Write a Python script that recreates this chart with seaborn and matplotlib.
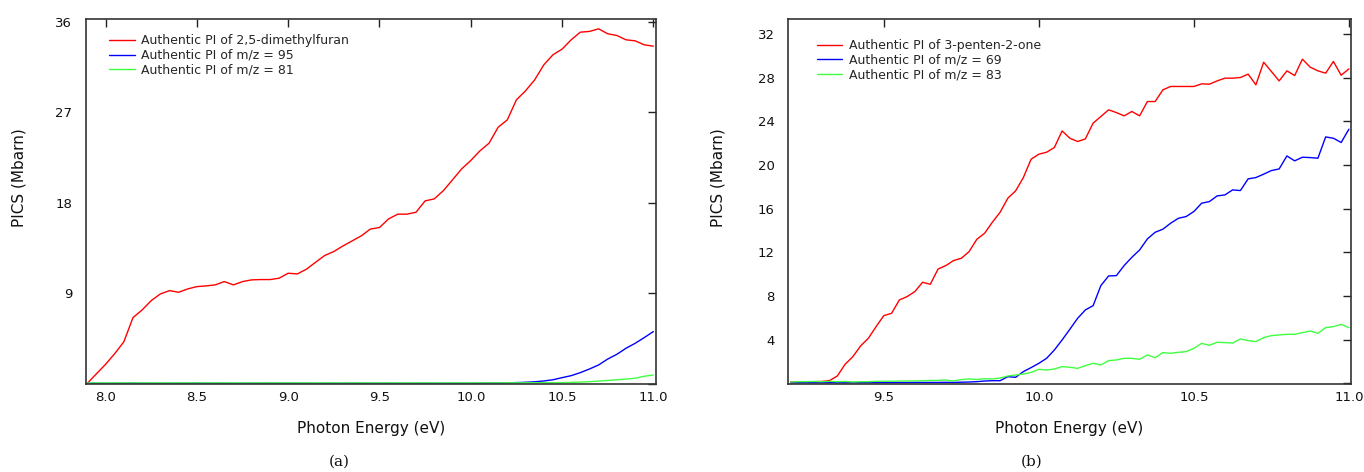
import matplotlib
matplotlib.use("Agg")
import matplotlib.pyplot as plt
import pandas as pd
import seaborn as sns

# ---------------- data: panel (a) ----------------
energy_a = [7.90, 7.95, 8.00, 8.05, 8.10, 8.15, 8.20, 8.25, 8.30, 8.35,
            8.40, 8.45, 8.50, 8.55, 8.60, 8.65, 8.70, 8.75, 8.80, 8.85,
            8.90, 8.95, 9.00, 9.05, 9.10, 9.15, 9.20, 9.25, 9.30, 9.35,
            9.40, 9.45, 9.50, 9.55, 9.60, 9.65, 9.70, 9.75, 9.80, 9.85,
            9.90, 9.95, 10.00, 10.05, 10.10, 10.15, 10.20, 10.25, 10.30, 10.35,
            10.40, 10.45, 10.50, 10.55, 10.60, 10.65, 10.70, 10.75, 10.80, 10.85,
            10.90, 10.95, 11.00]
red_a = [0.05, 1.00, 1.94, 3.00, 4.18, 6.58, 7.34, 8.27, 8.93, 9.26,
         9.10, 9.43, 9.66, 9.73, 9.83, 10.16, 9.83, 10.16, 10.33, 10.36,
         10.36, 10.49, 10.99, 10.92, 11.39, 12.08, 12.75, 13.15, 13.70, 14.20,
         14.70, 15.38, 15.53, 16.39, 16.86, 16.86, 17.05, 18.18, 18.38, 19.20,
         20.27, 21.36, 22.19, 23.15, 23.91, 25.50, 26.23, 28.22, 29.12, 30.21,
         31.70, 32.70, 33.26, 34.19, 34.95, 35.02, 35.28, 34.79, 34.62, 34.19,
         34.09, 33.69, 33.56]
blue_a = [0.05, 0.05, 0.04, 0.05, 0.05, 0.06, 0.05, 0.05, 0.04, 0.05,
          0.05, 0.05, 0.06, 0.05, 0.05, 0.05, 0.04, 0.05, 0.05, 0.05,
          0.06, 0.05, 0.05, 0.05, 0.05, 0.04, 0.05, 0.05, 0.05, 0.06,
          0.05, 0.05, 0.05, 0.05, 0.05, 0.04, 0.05, 0.05, 0.05, 0.05,
          0.05, 0.05, 0.05, 0.06, 0.07, 0.08, 0.10, 0.12, 0.15, 0.20,
          0.28, 0.40, 0.61, 0.81, 1.11, 1.47, 1.87, 2.46, 2.93, 3.53,
          4.02, 4.59, 5.19]
green_a = [0.08, 0.09, 0.08, 0.08, 0.09, 0.08, 0.08, 0.08, 0.09, 0.08,
           0.08, 0.09, 0.08, 0.08, 0.08, 0.09, 0.08, 0.08, 0.08, 0.09,
           0.08, 0.08, 0.09, 0.08, 0.08, 0.08, 0.09, 0.08, 0.08, 0.08,
           0.09, 0.08, 0.08, 0.09, 0.08, 0.08, 0.08, 0.09, 0.08, 0.08,
           0.09, 0.08, 0.08, 0.09, 0.09, 0.09, 0.10, 0.10, 0.10, 0.10,
           0.11, 0.11, 0.12, 0.14, 0.17, 0.21, 0.27, 0.33, 0.40, 0.47,
           0.55, 0.75, 0.87]
labels_a = ["Authentic PI of 2,5-dimethylfuran",
            "Authentic PI of m/z = 95",
            "Authentic PI of m/z = 81"]
yticks_a = [0, 9, 18, 27, 36]
ytick_labels_a = ["", "9", "18", "27", "36"]
xticks_a = [8.0, 8.5, 9.0, 9.5, 10.0, 10.5, 11.0]

# ---------------- data: panel (b) ----------------
energy_b = [9.200, 9.225, 9.250, 9.275, 9.300, 9.325, 9.350, 9.375, 9.400, 9.425,
            9.450, 9.475, 9.500, 9.525, 9.550, 9.575, 9.600, 9.625, 9.650, 9.675,
            9.700, 9.725, 9.750, 9.775, 9.800, 9.825, 9.850, 9.875, 9.900, 9.925,
            9.950, 9.975, 10.000, 10.025, 10.050, 10.075, 10.100, 10.125, 10.150, 10.175,
            10.200, 10.225, 10.250, 10.275, 10.300, 10.325, 10.350, 10.375, 10.400, 10.425,
            10.450, 10.475, 10.500, 10.525, 10.550, 10.575, 10.600, 10.625, 10.650, 10.675,
            10.700, 10.725, 10.750, 10.775, 10.800, 10.825, 10.850, 10.875, 10.900, 10.925,
            10.950, 10.975, 11.000]
red_b = [0.12, 0.12, 0.14, 0.15, 0.17, 0.25, 0.67, 1.74, 2.44, 3.42,
         4.12, 5.19, 6.20, 6.41, 7.63, 7.94, 8.40, 9.25, 9.07, 10.47,
         10.78, 11.24, 11.45, 12.06, 13.19, 13.74, 14.75, 15.66, 16.95, 17.62,
         18.84, 20.52, 20.98, 21.16, 21.59, 23.11, 22.44, 22.14, 22.38, 23.82,
         24.43, 25.04, 24.79, 24.49, 24.89, 24.49, 25.80, 25.80, 26.87, 27.18,
         27.18, 27.18, 27.18, 27.42, 27.39, 27.69, 27.94, 27.94, 28.00, 28.31,
         27.33, 29.40, 28.55, 27.69, 28.61, 28.18, 29.68, 28.95, 28.61, 28.40,
         29.47, 28.21, 28.79]
blue_b = [0.05, 0.05, 0.06, 0.05, 0.05, 0.06, 0.05, 0.05, 0.06, 0.05,
          0.06, 0.06, 0.07, 0.07, 0.07, 0.07, 0.08, 0.08, 0.08, 0.08,
          0.09, 0.08, 0.10, 0.12, 0.15, 0.21, 0.24, 0.24, 0.61, 0.55,
          1.07, 1.44, 1.83, 2.29, 3.05, 3.97, 4.95, 5.95, 6.72, 7.11,
          8.95, 9.83, 9.86, 10.78, 11.54, 12.21, 13.22, 13.83, 14.11, 14.66,
          15.11, 15.27, 15.73, 16.49, 16.64, 17.16, 17.25, 17.71, 17.65, 18.72,
          18.84, 19.15, 19.48, 19.63, 20.82, 20.37, 20.70, 20.67, 20.61, 22.56,
          22.44, 22.05, 23.27]
green_b = [0.12, 0.15, 0.15, 0.17, 0.15, 0.18, 0.15, 0.17, 0.12, 0.15,
           0.15, 0.18, 0.18, 0.20, 0.20, 0.22, 0.22, 0.24, 0.26, 0.27,
           0.30, 0.22, 0.34, 0.40, 0.35, 0.42, 0.40, 0.48, 0.67, 0.76,
           0.85, 1.00, 1.28, 1.22, 1.31, 1.53, 1.47, 1.37, 1.62, 1.83,
           1.68, 2.08, 2.14, 2.29, 2.29, 2.20, 2.60, 2.35, 2.81, 2.75,
           2.84, 2.90, 3.20, 3.66, 3.48, 3.76, 3.73, 3.69, 4.06, 3.91,
           3.82, 4.18, 4.37, 4.43, 4.49, 4.49, 4.64, 4.79, 4.58, 5.10,
           5.19, 5.40, 5.10]
labels_b = ["Authentic PI of 3-penten-2-one",
            "Authentic PI of m/z = 69",
            "Authentic PI of m/z = 83"]
yticks_b = [0, 4, 8, 12, 16, 20, 24, 28, 32]
ytick_labels_b = ["", "4", "8", "12", "16", "20", "24", "28", "32"]
xticks_b = [9.5, 10.0, 10.5, 11.0]

colors = ["#ff0000", "#0000ff", "#40ff40"]
x_label = "Photon Energy (eV)"
y_label = "PICS (Mbarn)"

# ---------------- style ----------------
sns.set_style("white")
plt.rcParams["font.family"] = ["DejaVu Sans"]

fig = plt.figure(figsize=(13.64, 4.72), dpi=100)
ax1 = fig.add_axes([0.0627, 0.1858, 0.4183, 0.774])
ax2 = fig.add_axes([0.5775, 0.1858, 0.4128, 0.774])


def make_df(energy, series, labels):
    frames = []
    for vals, lab in zip(series, labels):
        frames.append(pd.DataFrame({"energy": energy, "value": vals, "series": lab}))
    return pd.concat(frames, ignore_index=True)


def draw(ax, df, labels, xlim, ylim, xticks, yticks, yticklabels, legend_anchor, ylab_x):
    sns.lineplot(data=df, x="energy", y="value", hue="series", hue_order=labels,
                 palette=colors, estimator=None, sort=False, linewidth=1.0, ax=ax)
    ax.set_xlim(*xlim)
    ax.set_ylim(*ylim)
    ax.set_xticks(xticks)
    ax.set_xticklabels([f"{t:.1f}" for t in xticks])
    ax.set_yticks(yticks)
    ax.set_yticklabels(yticklabels)
    ax.tick_params(axis="both", direction="in", top=True, right=True,
                   length=5.5, width=1.0, color="#222222", labelsize=9.5,
                   labelcolor="#111111")
    ax.tick_params(axis="x", pad=5)
    ax.tick_params(axis="y", pad=9.5)
    for sp in ax.spines.values():
        sp.set_color("#333333")
        sp.set_linewidth(1.2)
    ax.set_xlabel(x_label, fontsize=11, color="#111111")
    ax.set_ylabel(y_label, fontsize=11, color="#111111")
    ax.xaxis.set_label_coords(0.5, -0.1)
    ax.yaxis.set_label_coords(ylab_x, 0.567)
    handles, labs = ax.get_legend_handles_labels()
    ax.legend(handles, labs, loc="upper left", bbox_to_anchor=legend_anchor,
              frameon=False, fontsize=9, handlelength=2.05, handletextpad=0.53,
              labelspacing=0.12, borderpad=0, borderaxespad=0)
    ax.grid(False)


df_a = make_df(energy_a, [red_a, blue_a, green_a], labels_a)
df_b = make_df(energy_b, [red_b, blue_b, green_b], labels_b)

draw(ax1, df_a, labels_a, (7.89, 11.015), (-0.05, 36.26), xticks_a, yticks_a,
     ytick_labels_a, (0.0412, 0.9576), -0.104)
draw(ax2, df_b, labels_b, (9.19, 11.006), (-0.09, 33.36), xticks_b, yticks_b,
     ytick_labels_b, (0.0515, 0.9447), -0.111)

fig.text(339 / 1364, 1 - 462 / 472, "(a)", ha="center", va="center",
         fontsize=11, family=["DejaVu Serif"], color="#111111")
fig.text(1032 / 1364, 1 - 462 / 472, "(b)", ha="center", va="center",
         fontsize=11, family=["DejaVu Serif"], color="#111111")

fig.savefig("out.png", dpi=100)
